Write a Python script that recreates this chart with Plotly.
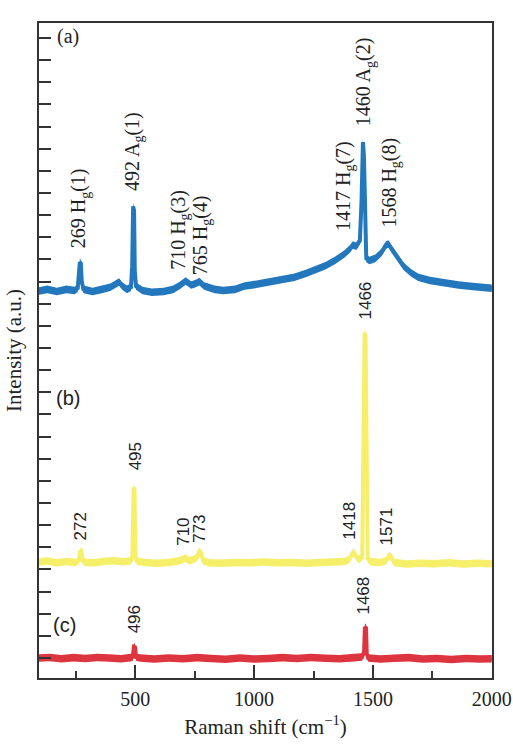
import plotly.graph_objects as go

# ---------------- data ----------------
# Raman shift (cm^-1) and intensity (a.u., one unit = one y tick step)
a_x = [95, 130, 170, 210, 245, 258, 263, 267, 271, 275, 282, 320, 360, 395, 420, 432, 445, 465,
       482, 487, 491, 495, 498, 503, 530, 570, 620, 660, 690, 712, 735, 752, 770, 790, 834, 870,
       920, 960, 1010, 1060, 1110, 1170, 1220, 1260, 1300, 1340, 1380, 1405, 1415, 1430, 1445,
       1452, 1458, 1462, 1466, 1472, 1485, 1510, 1535, 1555, 1565, 1580, 1605, 1630, 1660, 1690,
       1740, 1800, 1860, 1920, 2000]
a_y = [17.48, 17.55, 17.45, 17.55, 17.50, 17.60, 18.30, 18.78, 18.72, 17.90, 17.55, 17.45, 17.55,
       17.65, 17.80, 17.88, 17.70, 17.55, 17.65, 18.60, 21.30, 21.10, 18.40, 17.70, 17.50, 17.42,
       17.45, 17.55, 17.75, 17.93, 17.75, 17.80, 17.90, 17.70, 17.55, 17.50, 17.55, 17.70, 17.78,
       17.88, 17.98, 18.10, 18.28, 18.45, 18.62, 18.85, 19.15, 19.40, 19.55, 19.50, 19.75, 21.50,
       24.20, 23.60, 20.50, 18.95, 18.85, 18.95, 19.20, 19.55, 19.60, 19.35, 18.95, 18.58, 18.30,
       18.10, 17.95, 17.84, 17.75, 17.68, 17.60]

b_x = [95, 130, 170, 210, 250, 262, 268, 274, 279, 290, 330, 370, 410, 450, 482, 488, 493, 497,
       500, 506, 540, 590, 640, 680, 700, 712, 725, 745, 760, 770, 777, 785, 810, 860, 920, 980,
       1040, 1100, 1160, 1220, 1280, 1340, 1380, 1400, 1410, 1418, 1425, 1440, 1455, 1461, 1465,
       1469, 1473, 1478, 1490, 1530, 1555, 1568, 1578, 1590, 1640, 1700, 1760, 1820, 1880, 1940,
       2000]
b_y = [5.24, 5.28, 5.20, 5.26, 5.22, 5.30, 5.70, 5.72, 5.30, 5.22, 5.20, 5.27, 5.30, 5.25, 5.30,
       5.50, 8.60, 8.50, 5.60, 5.28, 5.22, 5.18, 5.22, 5.28, 5.35, 5.42, 5.30, 5.35, 5.45, 5.72,
       5.65, 5.30, 5.20, 5.18, 5.22, 5.20, 5.24, 5.20, 5.22, 5.18, 5.22, 5.24, 5.26, 5.35, 5.55,
       5.70, 5.55, 5.35, 5.45, 10.0, 15.60, 15.40, 9.50, 5.40, 5.25, 5.22, 5.30, 5.52, 5.45, 5.22,
       5.15, 5.18, 5.16, 5.20, 5.15, 5.18, 5.16]

c_x = [95, 140, 190, 240, 290, 340, 390, 440, 480, 490, 494, 499, 503, 520, 580, 640, 700, 760,
       820, 880, 940, 1000, 1060, 1120, 1180, 1240, 1300, 1360, 1420, 1455, 1463, 1466, 1471,
       1474, 1480, 1530, 1590, 1650, 1710, 1770, 1830, 1890, 1950, 2000]
c_y = [0.90, 0.93, 0.87, 0.92, 0.88, 0.93, 0.90, 0.87, 0.92, 0.95, 1.40, 1.38, 0.95, 0.90, 0.86,
       0.90, 0.87, 0.92, 0.88, 0.85, 0.90, 0.86, 0.88, 0.92, 0.88, 0.93, 0.89, 0.87, 0.92, 0.95,
       1.20, 2.30, 2.25, 1.10, 0.90, 0.86, 0.89, 0.92, 0.86, 0.88, 0.84, 0.88, 0.86, 0.87]

# peak labels: text, x position, y position of the label's lower end
a_labels = ["269 H<sub>g</sub>(1)", "492 A<sub>g</sub>(1)", "710 H<sub>g</sub>(3)",
            "765 H<sub>g</sub>(4)", "1417 H<sub>g</sub>(7)", "1460 A<sub>g</sub>(2)",
            "1568 H<sub>g</sub>(8)"]
a_label_x = [269, 492, 688, 782, 1383, 1466, 1570]
a_label_y = [19.33, 21.90, 18.34, 18.11, 20.10, 24.84, 20.23]

b_labels = ["272", "495", "710", "773", "1418", "1466", "1571"]
b_label_x = [270, 500, 700, 772, 1398, 1469, 1557]
b_label_y = [6.10, 9.30, 5.87, 6.01, 6.14, 16.08, 5.92]

c_labels = ["496", "1468"]
c_label_x = [496, 1461]
c_label_y = [1.94, 2.76]

panel_labels = ["(a)", "(b)", "(c)"]
panel_x = [216, 216, 204]
panel_y = [28.95, 12.65, 2.39]

x_range = [95, 2001]
y_range = [0, 29.58]

# ---------------- style ----------------
BLUE = "#2378bd"
YELLOW = "#f5ef6a"
RED = "#dd3540"
BAND = 0.17
SERIF = "Liberation Serif"
SANS = "Liberation Sans"
AXIS = "#333333"
TXT = "#222222"

fig = go.Figure()


def add_spectrum(x, y, color, name):
    fig.add_trace(go.Scatter(x=x, y=[v + BAND for v in y], mode="lines",
                             line=dict(width=0, color=color), hoverinfo="skip",
                             showlegend=False))
    fig.add_trace(go.Scatter(x=x, y=[v - BAND for v in y], mode="lines",
                             line=dict(width=0, color=color), fill="tonexty",
                             fillcolor=color, hoverinfo="skip", showlegend=False))
    fig.add_trace(go.Scatter(x=x, y=y, mode="lines", name=name,
                             line=dict(width=4, color=color), showlegend=False))


add_spectrum(a_x, a_y, BLUE, "(a)")
add_spectrum(b_x, b_y, YELLOW, "(b)")
add_spectrum(c_x, c_y, RED, "(c)")

annotations = []
for t, x, y in zip(a_labels, a_label_x, a_label_y):
    annotations.append(dict(x=x, y=y, text=t, textangle=-90, showarrow=False,
                            xanchor="center", yanchor="bottom",
                            font=dict(family=SERIF, size=20, color=TXT)))
for t, x, y in zip(b_labels + c_labels, b_label_x + c_label_x, b_label_y + c_label_y):
    annotations.append(dict(x=x, y=y, text=t, textangle=-90, showarrow=False,
                            xanchor="center", yanchor="bottom",
                            font=dict(family=SANS, size=17, color=TXT)))
for t, x, y, fam in zip(panel_labels, panel_x, panel_y, [SERIF, SANS, SANS]):
    annotations.append(dict(x=x, y=y, text=t, showarrow=False,
                            xanchor="center", yanchor="middle",
                            font=dict(family=fam, size=20, color=TXT)))

fig.update_layout(
    width=513, height=744,
    margin=dict(l=39, r=21, t=23, b=66),
    paper_bgcolor="white", plot_bgcolor="white",
    annotations=annotations,
    xaxis=dict(
        range=x_range, showgrid=False, zeroline=False,
        showline=True, linecolor=AXIS, linewidth=2, mirror=True,
        ticks="inside", tick0=0, dtick=500, ticklen=13, tickwidth=1.5, tickcolor=AXIS,
        minor=dict(ticks="inside", tick0=0, dtick=250, ticklen=7, tickwidth=1.5,
                   tickcolor=AXIS, showgrid=False),
        tickfont=dict(family=SERIF, size=20, color=TXT),
        ticklabelstandoff=2,
        ticklabeloverflow="allow",
        title=dict(text="Raman shift (cm<sup>−1</sup>)", standoff=10,
                   font=dict(family=SERIF, size=21, color=TXT)),
        automargin=False,
    ),
    yaxis=dict(
        range=y_range, showgrid=False, zeroline=False,
        showline=True, linecolor=AXIS, linewidth=2, mirror=True,
        ticks="inside", tick0=0.903, dtick=1, ticklen=12, tickwidth=1.5, tickcolor=AXIS,
        showticklabels=False,
        title=dict(text="Intensity (a.u.)", standoff=10,
                   font=dict(family=SERIF, size=21, color=TXT)),
        automargin=False,
    ),
)

# place the figure at the window's corner (no default page margin), no toolbar
fig.write_html("out.html", config={"displayModeBar": False},
               post_script="document.body.style.margin='0';")
